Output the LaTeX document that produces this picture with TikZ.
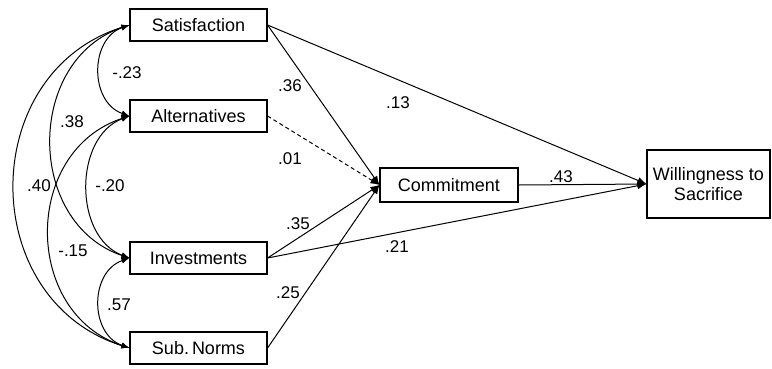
\documentclass[tikz,border=0pt]{standalone}
\usepackage{fontspec}
\setmainfont{Liberation Sans}
\usetikzlibrary{arrows.meta}
\begin{document}
\begin{tikzpicture}[x=1pt,y=-1pt,
  box/.style={draw,line width=1.1pt,inner sep=0pt,minimum height=32pt,
    font=\fontsize{18}{20.5}\selectfont,align=center},
  lbl/.style={inner sep=0pt,font=\fontsize{17}{19}\selectfont},
  path/.style={line width=1pt,-{Latex[length=9pt,width=7pt]}},
  cov/.style={line width=1pt,{Latex[length=8pt,width=6pt]}-{Latex[length=8pt,width=6pt]}}]
\useasboundingbox (0,0) rectangle (772,368);
% boxes
\node[box,minimum width=137pt] (sat) at (198.5,25) {Satisfaction};
\node[box,minimum width=137pt] (alt) at (198.5,116) {Alternatives};
\node[box,minimum width=137pt] (inv) at (198.5,258) {Investments};
\node[box,minimum width=137pt] (sn)  at (198.5,348) {Sub.\,Norms};
\node[box,minimum width=138pt,minimum height=34pt] (com) at (449,185) {Commitment};
\node[box,minimum width=123pt,minimum height=68pt] (wil) at (708.5,184) {Willingness to\\Sacrifice};
% directed paths
\draw[path] (sat.east) -- (com.west);
\draw[path] (sat.east) -- (wil.west);
\draw[path,dash pattern=on 4pt off 3pt] (alt.east) -- (com.west);
\draw[path] (inv.east) -- (com.west);
\draw[path] (inv.east) -- (wil.west);
\draw[path] (sn.east) -- (com.west);
\draw[path] (com.east) -- (wil.west);
% covariances
\draw[cov] (sat.west) .. controls +(-40,14) and +(-40,-14) .. (alt.west);
\draw[cov] (alt.west) .. controls +(-56,21) and +(-56,-21) .. (inv.west);
\draw[cov] (inv.west) .. controls +(-40,14) and +(-40,-14) .. (sn.west);
\draw[cov] (sat.west) .. controls +(-104,35) and +(-104,-35) .. (inv.west);
\draw[cov] (alt.west) .. controls +(-107,35) and +(-107,-35) .. (sn.west);
\draw[cov] (sat.west) .. controls +(-153,48) and +(-153,-48) .. (sn.west);
% labels
\node[lbl] (l1) at (127,73) {-.23};
\node[lbl] (l2) at (72,122) {.38};
\node[lbl] (l3) at (39,186) {.40};
\node[lbl] (l4) at (110,186) {-.20};
\node[lbl] (l5) at (73,251) {-.15};
\node[lbl] (l6) at (119,305) {.57};
\node[lbl] (l7) at (290,86) {.36};
\node[lbl] (l8) at (398,103) {.13};
\node[lbl] (l9) at (290,159) {.01};
\node[lbl] (l10) at (298,224) {.35};
\node[lbl] (l11) at (397,247) {.21};
\node[lbl] (l12) at (288,293) {.25};
\node[lbl] (l13) at (561,177) {.43};
\end{tikzpicture}
\end{document}
